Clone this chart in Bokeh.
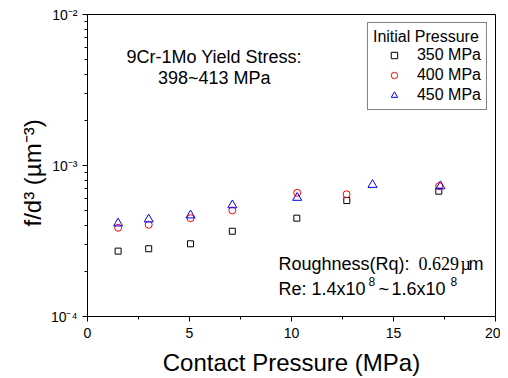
import math
from bokeh.plotting import figure
from bokeh.models import Label, Range1d, FixedTicker, Legend, LegendItem, Title
from bokeh.embed import file_html
from bokeh.resources import INLINE

# ---- data ----
x350 = [1.5, 3.0, 5.05, 7.1, 10.26, 12.71, 17.22]
y350 = [2.71e-4, 2.81e-4, 3.03e-4, 3.67e-4, 4.48e-4, 5.86e-4, 6.76e-4]
x400 = [1.5, 3.0, 5.05, 7.1, 10.28, 12.7, 17.24]
y400 = [3.87e-4, 4.05e-4, 4.48e-4, 5.04e-4, 6.6e-4, 6.45e-4, 7.3e-4]
x450 = [1.5, 3.0, 5.05, 7.1, 10.28, 13.97, 17.3]
y450 = [4.14e-4, 4.40e-4, 4.68e-4, 5.46e-4, 6.12e-4, 7.45e-4, 7.30e-4]
series_labels = ["350 MPa", "400 MPa", "450 MPa"]
x_ticks = [0, 5, 10, 15, 20]
y_ticks = [1e-4, 1e-3, 1e-2]
y_tick_labels = ["10\u207b\u2074", "10\u207b\u00b3", "10\u207b\u00b2"]
y_minor = [k * d for d in (1e-4, 1e-3) for k in range(2, 10)]

FONT = "Liberation Sans"

p = figure(width=500, height=378, output_backend="svg", toolbar_location=None,
           y_axis_type="log", x_range=Range1d(0, 20), y_range=Range1d(1e-4, 1e-2),
           min_border_left=87, min_border_right=5, min_border_top=14, min_border_bottom=62)
p.background_fill_color = "white"
p.border_fill_color = "white"
p.outline_line_color = "black"
p.outline_line_width = 1
p.xgrid.visible = False
p.ygrid.visible = False

r1 = p.scatter(x350, y350, marker="square", size=6, fill_color=None, line_color="black", line_width=1)
r2 = p.scatter(x400, y400, marker="circle", size=7, fill_color=None, line_color="red", line_width=1)
r3 = p.scatter(x450, y450, marker="triangle", size=9, fill_color=None, line_color="blue", line_width=1)

legend = Legend(items=[LegendItem(label=series_labels[0], renderers=[r1]),
                       LegendItem(label=series_labels[1], renderers=[r2]),
                       LegendItem(label=series_labels[2], renderers=[r3])],
                location="top_right", title="Initial Pressure")
legend.title_text_font = FONT
legend.title_text_font_size = "16px"
legend.title_text_font_style = "normal"
legend.title_text_color = "black"
legend.title_standoff = 0
legend.label_text_font = FONT
legend.label_text_font_size = "16px"
legend.label_text_color = "black"
legend.label_height = 16
legend.glyph_height = 16
legend.glyph_width = 42
legend.label_standoff = 2
legend.spacing = 2
legend.padding = 5
legend.margin = 8
legend.border_line_color = "black"
legend.border_line_width = 1
legend.background_fill_alpha = 1
p.add_layout(legend)

# axes
xa = p.xaxis[0]
xa.ticker = FixedTicker(ticks=x_ticks, minor_ticks=[2.5, 7.5, 12.5, 17.5])
xa.axis_label = "Contact Pressure (MPa)"
xa.axis_label_text_font = FONT
xa.axis_label_text_font_size = "24px"
xa.axis_label_text_font_style = "normal"
xa.axis_label_text_color = "black"
xa.axis_label_standoff = 8
xa.major_label_text_font = FONT
xa.major_label_text_font_size = "14px"
xa.major_label_text_color = "black"
xa.major_label_standoff = 6

ya = p.yaxis[0]
ya.ticker = FixedTicker(ticks=y_ticks, minor_ticks=y_minor)
ya.major_label_overrides = {t: l for t, l in zip(y_ticks, y_tick_labels)}
ya.major_label_text_font = FONT
ya.major_label_text_font_size = "14px"
ya.major_label_text_color = "black"
ya.major_label_standoff = 5

for ax in (xa, ya):
    ax.axis_line_color = "black"
    ax.major_tick_line_color = "black"
    ax.minor_tick_line_color = "black"
    ax.major_tick_out = 5
    ax.major_tick_in = 0
    ax.minor_tick_out = 3
    ax.minor_tick_in = 0

# y axis label as a side title (allows offset along the axis)
ytitle = Title(text="f/d\u00b3 (\u00b5m\u207b\u00b3)", align="left", offset=90, standoff=4,
               text_font=FONT, text_font_size="24px", text_font_style="normal", text_color="black")
p.add_layout(ytitle, "left")

# annotations
p.add_layout(Label(x=6.21, y=5.27e-3, text="9Cr-1Mo Yield Stress:", text_align="center",
                   text_baseline="middle", text_font=FONT, text_font_size="18px", text_color="black"))
p.add_layout(Label(x=6.21, y=3.77e-3, text="398~413 MPa", text_align="center",
                   text_baseline="middle", text_font=FONT, text_font_size="18px", text_color="black"))

rx, ry1, ry2 = 9.36, 2.23e-4, 1.53e-4
p.add_layout(Label(x=rx, y=ry1, text="Roughness(Rq):", text_align="left", text_baseline="middle",
                   text_font=FONT, text_font_size="18px", text_color="black"))
p.add_layout(Label(x=rx, y=ry1, x_offset=140, text="0.629", text_align="left", text_baseline="middle",
                   text_font="Liberation Serif", text_font_size="18px", text_color="black"))
p.add_layout(Label(x=rx, y=ry1, x_offset=182, text="\u00b5", text_align="left", text_baseline="middle",
                   text_font="Liberation Serif", text_font_size="18px", text_color="black"))
p.add_layout(Label(x=rx, y=ry1, x_offset=190, text="m", text_align="left", text_baseline="middle",
                   text_font=FONT, text_font_size="18px", text_color="black"))

re_parts = ["Re: 1.4x10", "8", "~", "1.6x10", "8"]
re_offsets = [0, 90, 100, 113, 172]
for txt, off in zip(re_parts, re_offsets):
    sup = txt == "8"
    p.add_layout(Label(x=rx, y=ry2, x_offset=off, y_offset=7 if sup else 0, text=txt,
                       text_align="left", text_baseline="middle", text_font=FONT,
                       text_font_size="12px" if sup else "18px", text_color="black"))

open("out.html", "w").write(file_html(p, INLINE))
